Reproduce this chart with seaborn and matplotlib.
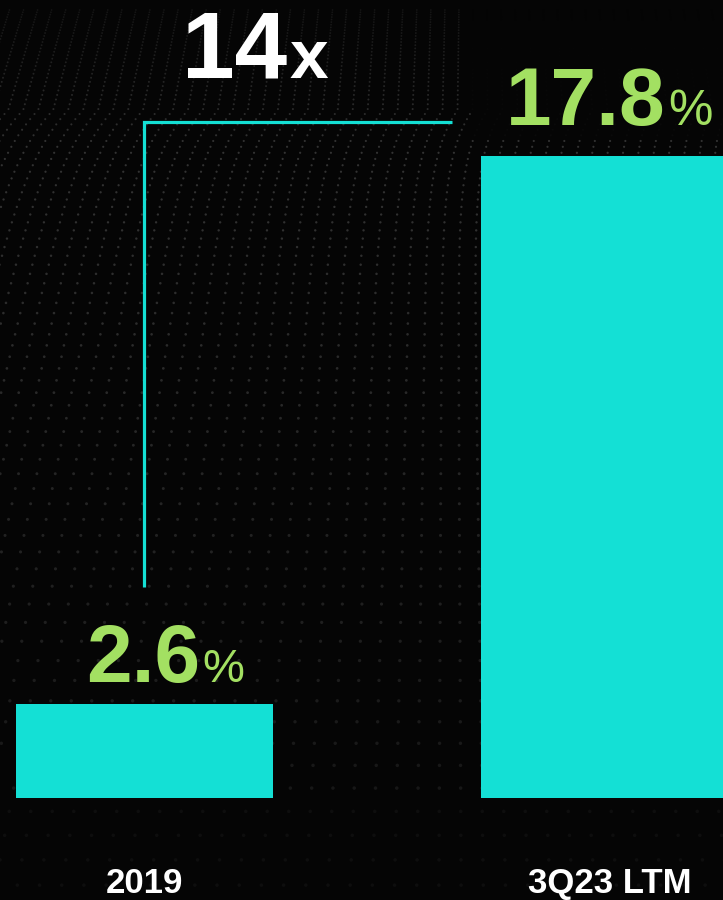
import numpy as np
import pandas as pd
import matplotlib
matplotlib.use("Agg")
import matplotlib.pyplot as plt
import seaborn as sns

# Chart data
periods = ["2019", "3Q23 LTM"]
margins = [2.6, 17.8]
growth_label = "14"

BAR_COLOR = "#14E0D5"
VALUE_COLOR = "#A3E062"
BG_COLOR = "#050505"

sns.set_theme(style="white")
plt.rcParams["font.family"] = ["Liberation Sans Narrow", "Liberation Sans", "DejaVu Sans"]

W, H, DPI = 723, 900, 100
fig = plt.figure(figsize=(W / DPI, H / DPI), dpi=DPI, facecolor=BG_COLOR)

# --- decorative dotted backdrop (pixel coordinates) ---
bg = fig.add_axes([0, 0, 1, 1], zorder=0)
bg.set_xlim(0, W)
bg.set_ylim(H, 0)
bg.axis("off")
bg.set_facecolor(BG_COLOR)

vx, vy = 450.0, -1500.0          # vanishing point of the dot columns
rows = [10.0]
while rows[-1] < 880:
    rows.append(rows[-1] + 0.027 * (rows[-1] + 75))
rows = np.array(rows)
xs, ys, cs, ss = [], [], [], []
for xb in np.arange(-300, 1100, 20):
    for y in rows:
        t = (y - vy) / (650 - vy)
        x = vx + (xb - vx) * t
        # crest: columns near the top bend to the right
        x += 30 * np.exp(-(y - 110) / 45) if y > 110 else 30
        if x < -5 or x > W + 5:
            continue
        level = 0.20 - 0.11 * min(max((y - 150) / 650, 0), 1)
        if y < 150:
            level *= 0.35 + 0.65 * y / 150
        if x > 470 and y < 140:
            level *= 0.2
        if y > 800:
            level *= 0.6
        xs.append(x)
        ys.append(y)
        cs.append(level)
        ss.append(1.5 + 5.0 * min(max(y / 800, 0), 1))
cs = np.array(cs)
bg.scatter(xs, ys, s=ss, c=np.stack([cs, cs, cs], axis=1), linewidths=0)

# --- bar chart ---
base_px = 798
px_per_unit = (base_px - 156) / margins[1]
ax = fig.add_axes([0, 1 - base_px / H, 1, base_px / H], zorder=1)
ax.patch.set_alpha(0)

df = pd.DataFrame({"period": periods, "margin": margins})
sns.barplot(data=df, x="period", y="margin", color=BAR_COLOR, saturation=1,
            width=257 / 465, linewidth=0, edgecolor=BAR_COLOR, ax=ax)

center0, spacing = 144.5, 465.0
ax.set_xlim(-center0 / spacing, (W - center0) / spacing)
ax.set_ylim(0, base_px / px_per_unit)

for s in ax.spines.values():
    s.set_visible(False)
ax.set_xlabel("")
ax.set_ylabel("")
ax.set_yticks([])
ax.tick_params(axis="x", length=0, pad=50, labelsize=25, labelcolor="white")
for lab in ax.get_xticklabels():
    lab.set_fontweight("bold")

# value labels: number + smaller percent sign
pct_sizes = [34, 36]
for i, v in enumerate(margins):
    off_y = 16 if i == 0 else 22
    ax.annotate(f"{v:.1f}", xy=(i, v), xytext=(40, off_y), textcoords="offset points",
                ha="right", va="baseline", fontsize=59, fontweight="bold",
                color=VALUE_COLOR)
    ax.annotate("%", xy=(i, v), xytext=(42, off_y), textcoords="offset points",
                ha="left", va="baseline", fontsize=pct_sizes[i], color=VALUE_COLOR)

# growth bracket from the 2019 bar up and across toward the latest bar
bx0 = 0.0
bx1 = (452 - center0) / spacing
by0 = margins[0] + 3.25
by1 = margins[1] + 0.94
ax.plot([bx0, bx0, bx1], [by0, by1, by1], color=BAR_COLOR, lw=2.3,
        solid_capstyle="butt", solid_joinstyle="miter", clip_on=False)

gx = (287 - center0) / spacing
gy = (base_px - 78) / px_per_unit
ax.text(gx, gy, growth_label, ha="right", va="baseline", fontsize=68,
        fontweight="bold", color="white", clip_on=False)
ax.annotate("x", xy=(gx, gy), xytext=(2, 0), textcoords="offset points",
            ha="left", va="baseline", fontsize=50, fontweight="bold", color="white")

fig.savefig("out.png", dpi=DPI, facecolor=BG_COLOR)
